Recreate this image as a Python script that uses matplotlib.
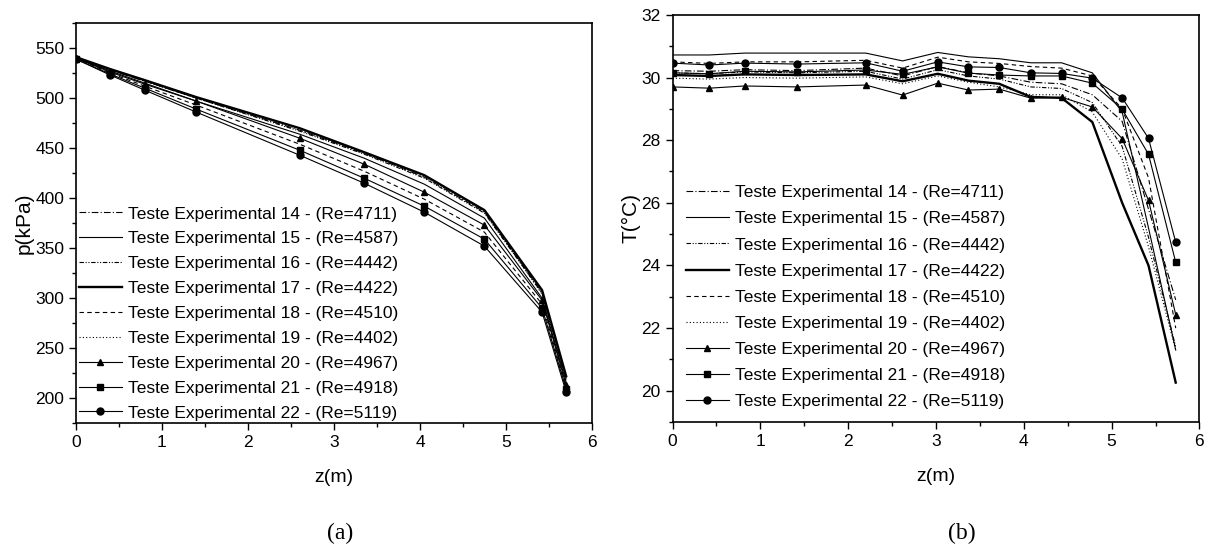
import matplotlib
matplotlib.use('Agg')
import matplotlib.pyplot as plt
from matplotlib.ticker import MultipleLocator

plt.rcParams['font.family'] = ['Liberation Sans', 'DejaVu Sans']

labels = ['Teste Experimental 14 - (Re=4711)',
          'Teste Experimental 15 - (Re=4587)',
          'Teste Experimental 16 - (Re=4442)',
          'Teste Experimental 17 - (Re=4422)',
          'Teste Experimental 18 - (Re=4510)',
          'Teste Experimental 19 - (Re=4402)',
          'Teste Experimental 20 - (Re=4967)',
          'Teste Experimental 21 - (Re=4918)',
          'Teste Experimental 22 - (Re=5119)']

# (a) pressure
z_p = [0, 0.4, 0.8, 1.4, 2.6, 3.35, 4.05, 4.75, 5.42, 5.7]
p14 = [541, 528, 517, 500, 468, 445, 421, 386, 306, 220]
p15 = [540, 527, 515, 497, 464, 440, 414, 380, 300, 216]
p16 = [540, 528, 517, 500, 467, 444, 420, 385, 305, 219]
p17 = [541, 529, 518, 501, 470, 446, 423, 388, 308, 222]
p18 = [540, 525, 512, 493, 454, 427, 399, 366, 294, 211]
p19 = [541, 529, 518, 501, 469, 445, 422, 387, 304, 218]
p20 = [540, 526, 514, 497, 460, 434, 406, 373, 298, 213]
p21 = [539, 524, 510, 489, 448, 420, 392, 359, 290, 209]
p22 = [539, 523, 508, 486, 443, 415, 386, 352, 286, 206]

# (b) temperature
z_t = [0, 0.42, 0.82, 1.42, 2.2, 2.62, 3.02, 3.37, 3.72, 4.08, 4.43, 4.78, 5.12, 5.42, 5.73]
t14 = [30.22, 30.20, 30.25, 30.22, 30.30, 30.05, 30.35, 30.15, 30.05, 29.85, 29.80, 29.45, 28.6, 25.8, 22.9]
t15 = [30.72, 30.72, 30.78, 30.78, 30.78, 30.53, 30.80, 30.66, 30.60, 30.47, 30.47, 30.15, 28.9, 25.2, 21.3]
t16 = [30.15, 30.12, 30.18, 30.15, 30.20, 29.95, 30.25, 30.05, 29.95, 29.70, 29.65, 29.20, 27.8, 24.9, 21.4]
t17 = [30.08, 30.05, 30.10, 30.08, 30.10, 29.88, 30.12, 29.90, 29.80, 29.38, 29.35, 28.58, 26.0, 24.0, 20.26]
t18 = [30.50, 30.45, 30.50, 30.50, 30.55, 30.30, 30.65, 30.50, 30.45, 30.35, 30.30, 30.05, 29.0, 26.8, 22.0]
t19 = [29.98, 29.95, 30.00, 29.98, 30.02, 29.80, 30.05, 29.85, 29.70, 29.45, 29.45, 28.90, 27.4, 24.6, 21.3]
t20 = [29.70, 29.66, 29.73, 29.70, 29.76, 29.44, 29.82, 29.60, 29.63, 29.34, 29.37, 29.06, 28.05, 26.08, 22.43]
t21 = [30.15, 30.12, 30.20, 30.18, 30.24, 30.10, 30.34, 30.14, 30.08, 30.05, 30.05, 29.82, 28.99, 27.55, 24.10]
t22 = [30.46, 30.40, 30.46, 30.43, 30.47, 30.20, 30.50, 30.34, 30.32, 30.15, 30.13, 29.98, 29.35, 28.06, 24.74]

styles = [
    dict(ls=(0, (6, 2, 1, 2)), lw=0.8),
    dict(ls='-', lw=0.8),
    dict(ls=(0, (4, 1.5, 1, 1.5, 1, 1.5)), lw=0.8),
    dict(ls='-', lw=1.7),
    dict(ls=(0, (4, 3)), lw=0.8),
    dict(ls=(0, (1, 2)), lw=0.8),
    dict(ls='-', lw=0.8, marker='^', ms=5),
    dict(ls='-', lw=0.8, marker='s', ms=4.5),
    dict(ls='-', lw=0.8, marker='o', ms=5),
]

fig = plt.figure(figsize=(12.14, 5.51), dpi=100)
ax1 = fig.add_axes([0.0626, 0.232, 0.425, 0.726])
ax2 = fig.add_axes([0.554, 0.234, 0.434, 0.739])

for ys, lab, st in zip([p14, p15, p16, p17, p18, p19, p20, p21, p22], labels, styles):
    ax1.plot(z_p, ys, color='black', label=lab, **st)
for ys, lab, st in zip([t14, t15, t16, t17, t18, t19, t20, t21, t22], labels, styles):
    ax2.plot(z_t, ys, color='black', label=lab, **st)

ax1.set_xlim(0, 6)
ax1.set_ylim(175, 575)
ax1.set_yticks([200, 250, 300, 350, 400, 450, 500, 550])
ax1.yaxis.set_minor_locator(MultipleLocator(25))
ax1.set_ylabel('p(kPa)', fontsize=15, labelpad=1)

ax2.set_xlim(0, 6)
ax2.set_ylim(19, 32)
ax2.set_yticks([20, 22, 24, 26, 28, 30, 32])
ax2.yaxis.set_minor_locator(MultipleLocator(1))
ax2.set_ylabel('T(°C)', fontsize=15, labelpad=1)

leg_opts = {ax1: (0.56, 0.0), ax2: (0.63, 0.6)}
for ax in (ax1, ax2):
    ax.set_xticks([0, 1, 2, 3, 4, 5, 6])
    ax.xaxis.set_minor_locator(MultipleLocator(0.5))
    ax.tick_params(which='major', direction='out', length=5, width=1, labelsize=12.5)
    ax.tick_params(which='minor', direction='out', length=3, width=1)
    ax.set_xlabel('z(m)', fontsize=14, labelpad=14)
    for sp in ax.spines.values():
        sp.set_linewidth(1.2)
    sp_lab, pad = leg_opts[ax]
    ax.legend(loc='lower left', bbox_to_anchor=(0, 0), frameon=False, fontsize=12.5,
              handlelength=2.5, handletextpad=0.35, labelspacing=sp_lab,
              borderaxespad=pad, borderpad=0.15)

fig.text(0.280, 0.022, '(a)', family=['Liberation Serif', 'DejaVu Serif'], fontsize=17, ha='center')
fig.text(0.792, 0.022, '(b)', family=['Liberation Serif', 'DejaVu Serif'], fontsize=17, ha='center')

fig.savefig('out.png', dpi=100)
